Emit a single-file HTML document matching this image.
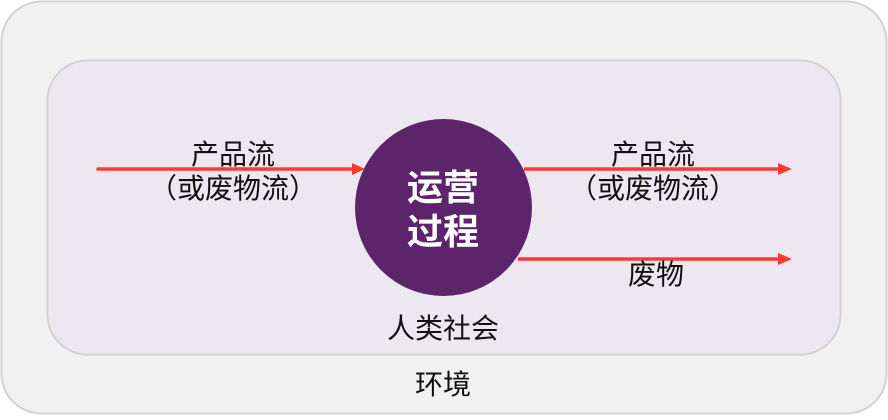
<!DOCTYPE html>
<html><head><meta charset="utf-8"><style>
body{margin:0;background:#fff;}
</style></head><body>
<svg width="888" height="420" xmlns="http://www.w3.org/2000/svg" style="display:block">
<rect x="1.5" y="1.5" width="885" height="412" rx="40" fill="#f1f1f1" stroke="#d2d2d6" stroke-width="2"/>
<rect x="47.5" y="60.5" width="793" height="294" rx="40" fill="#ede7f2" stroke="#d2d2d6" stroke-width="2"/>
<circle cx="443.5" cy="207.5" r="88.5" fill="#5c246a"/>
<g fill="#ff3b30" stroke="#ff3b30">
<line x1="98" y1="169" x2="352" y2="169" stroke-width="3.5" stroke-linecap="round"/>
<polygon points="352,163 365,169 352,175" stroke="none"/>
<line x1="524" y1="169" x2="780" y2="169" stroke-width="3.5"/>
<polygon points="778,163 792,169 778,175" stroke="none"/>
<line x1="518" y1="259" x2="780" y2="259" stroke-width="3.5"/>
<polygon points="778,253 792,259 778,265" stroke="none"/>
</g>
<g font-family="Liberation Sans, Noto Sans CJK SC, sans-serif" font-size="28" fill="#111" text-anchor="middle">
<text x="233" y="164">产品流</text>
<text x="233" y="198">（或废物流）</text>
<text x="653" y="164">产品流</text>
<text x="653" y="198">（或废物流）</text>
<text x="656" y="284">废物</text>
<text x="443" y="338">人类社会</text>
<text x="443" y="394">环境</text>
</g>
<g font-family="Liberation Sans, Noto Sans CJK SC, sans-serif" font-size="36" font-weight="bold" fill="#fff" text-anchor="middle">
<text x="443" y="200">运营</text>
<text x="443" y="244">过程</text>
</g>
</svg>
</body></html>
